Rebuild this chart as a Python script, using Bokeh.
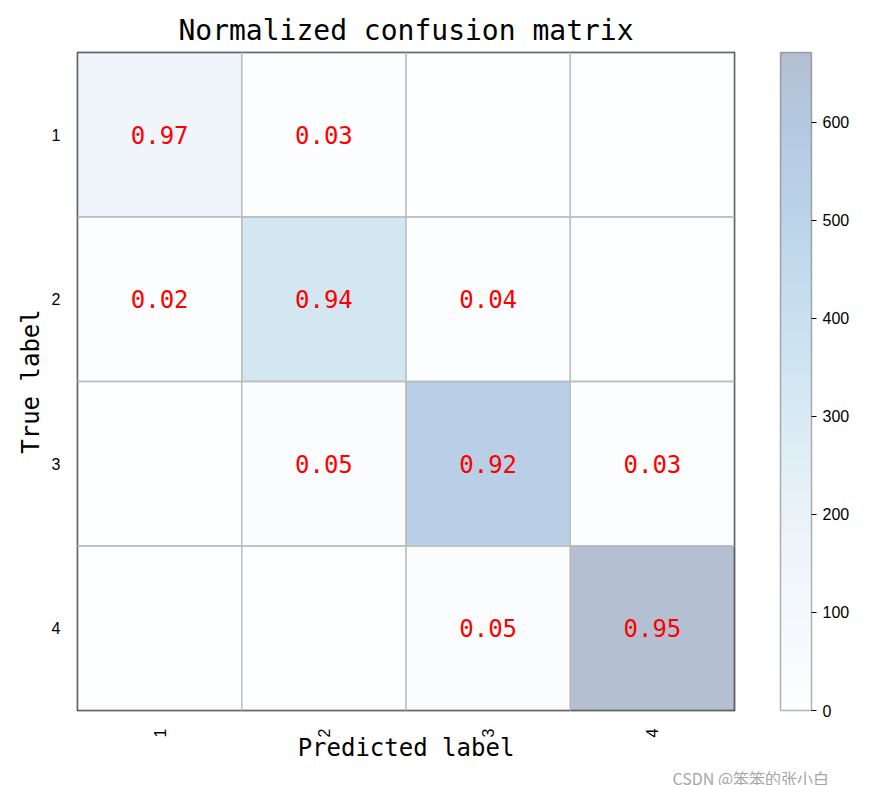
from bokeh.plotting import figure
from bokeh.models import LinearColorMapper, ColorBar, FixedTicker, ColumnDataSource, Title
from bokeh.palettes import Blues256
from bokeh.core.properties import value
from bokeh.embed import file_html
from bokeh.resources import INLINE
import math

# ---- data ----
classes = ["1", "2", "3", "4"]
# normalized values (row = true label, column = predicted label)
norm_row1 = [0.97, 0.03, 0.00, 0.00]
norm_row2 = [0.02, 0.94, 0.04, 0.00]
norm_row3 = [0.00, 0.05, 0.92, 0.03]
norm_row4 = [0.00, 0.00, 0.05, 0.95]
# raw counts (drive the cell colours)
count_row1 = [150, 5, 0, 0]
count_row2 = [7, 334, 14, 0]
count_row3 = [0, 30, 543, 18]
count_row4 = [0, 0, 35, 671]
cbar_ticks = [0, 100, 200, 300, 400, 500, 600]
cbar_max = 671

norm_rows = [norm_row1, norm_row2, norm_row3, norm_row4]
count_rows = [count_row1, count_row2, count_row3, count_row4]

xs, ys, cnt, lab = [], [], [], []
for i, (nr, cr) in enumerate(zip(norm_rows, count_rows)):
    for j, (nv, cv) in enumerate(zip(nr, cr)):
        xs.append(j + 1)
        ys.append(i + 1)
        cnt.append(cv)
        lab.append(f"{nv:.2f}" if nv > 0 else "")
src = ColumnDataSource(dict(x=xs, y=ys, count=cnt, label=lab))

palette = tuple(reversed(Blues256))
mapper = LinearColorMapper(palette=palette, low=0, high=cbar_max)

MONO = "DejaVu Sans Mono"
SANS = "Liberation Sans"

p = figure(frame_width=657, frame_height=658,
           min_border_left=77, min_border_top=52, min_border_bottom=40, min_border_right=128,
           x_range=(0.5, 4.5), y_range=(4.5, 0.5),
           output_backend="svg", toolbar_location=None,
           title="Normalized confusion matrix")

p.title.text_font = MONO
p.title.text_font_size = "28px"
p.title.text_font_style = "normal"
p.title.text_color = "black"
p.title.align = "center"
p.title.standoff = 12

p.rect(x="x", y="y", width=1, height=1, source=src,
       fill_color={"field": "count", "transform": mapper}, fill_alpha=0.3,
       line_color="#bdbdbd", line_width=1.3)
p.text(x="x", y="y", text="label", source=src, text_color="red",
       text_font=value(MONO), text_font_size="24px",
       text_align="center", text_baseline="middle")

ticks = list(range(1, len(classes) + 1))
for ax in (p.xaxis, p.yaxis):
    ax.ticker = FixedTicker(ticks=ticks)
    ax.major_label_overrides = {t: c for t, c in zip(ticks, classes)}
    ax.major_tick_line_color = None
    ax.minor_tick_line_color = None
    ax.axis_line_color = None
    ax.major_label_text_font = SANS
    ax.major_label_text_font_size = "16px"
    ax.major_label_text_color = "black"
    ax.axis_label_text_font = MONO
    ax.axis_label_text_font_size = "24px"
    ax.axis_label_text_font_style = "normal"
    ax.axis_label_text_color = "black"

p.xaxis.axis_label = "Predicted label"
p.yaxis.axis_label = "True label"
p.xaxis.major_label_orientation = math.pi / 2
p.xaxis.major_label_standoff = 12
p.xaxis.axis_label_standoff = -6
p.yaxis.major_label_standoff = 11
p.yaxis.axis_label_standoff = 4

p.grid.visible = False
p.outline_line_color = "black"
p.outline_line_width = 1.5
p.background_fill_color = "white"
p.border_fill_color = "white"

cb = ColorBar(color_mapper=mapper, ticker=FixedTicker(ticks=cbar_ticks),
              scale_alpha=0.3, width=31, height=658,
              padding=0, margin=0, location=(46, 0),
              major_label_text_font=SANS, major_label_text_font_size="16px",
              major_label_text_color="black",
              bar_line_color="black", bar_line_width=1.5,
              major_tick_line_color="black", major_tick_line_width=1.2,
              major_tick_in=0, major_tick_out=5,
              minor_tick_line_color=None, label_standoff=6,
              border_line_color=None, background_fill_color=None)
p.add_layout(cb, "right")

wm = Title(text="CSDN @笨笨的张小白", align="left", offset=595,
           text_color="#a6a6a6", text_font="Noto Sans CJK SC",
           text_font_size="16px", text_font_style="normal",
           vertical_align="top", standoff=0)
p.add_layout(wm, "below")

open("out.html", "w").write(file_html(p, INLINE))
